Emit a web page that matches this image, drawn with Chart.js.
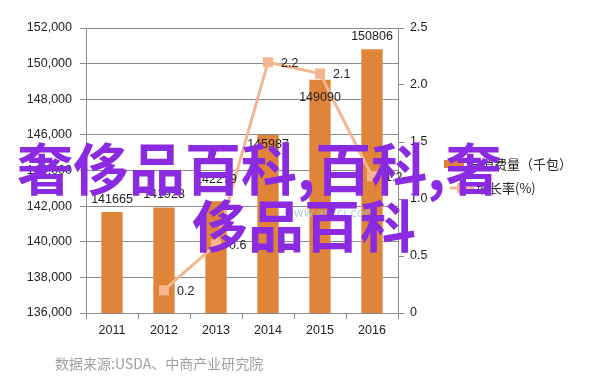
<!DOCTYPE html>
<html>
<head>
<meta charset="utf-8">
<script src="https://cdn.jsdelivr.net/npm/chart.js@4.4.0/dist/chart.umd.min.js"></script>
<style>
  body { margin:0; background:#fff; }
  #wrap { position:relative; width:602px; height:384px; overflow:hidden; }
  #c { position:absolute; left:0; top:0; }
  .wm { position:absolute; font-family:"Noto Sans CJK SC"; font-weight:bold; color:#8a2be2; line-height:1; white-space:nowrap; }
  #src { position:absolute; left:55px; top:353px; font-family:"Noto Sans CJK SC"; font-size:14px; color:#a0a0a0; white-space:nowrap; }
  #site { position:absolute; left:284px; top:206px; font-family:"DejaVu Sans"; font-size:12px; color:#9fc6dc; opacity:0.8; }
</style>
</head>
<body>
<div id="wrap">
  <canvas id="c" width="602" height="384"></canvas>
  <div id="site">www.askci.com</div>
  <div class="wm" id="wm1" style="left:17px;top:138px;font-size:56px;">奢侈品百科,百科,奢</div>
  <div class="wm" id="wm2" style="left:192px;top:195px;font-size:56px;">侈品百科</div>
  <div id="src">数据来源:USDA、中商产业研究院</div>
</div>
<script>
// data
var years = ["2011", "2012", "2013", "2014", "2015", "2016"];
var consumption = [141665, 141923, 142279, 145987, 149090, 150806];
var growth = [null, 0.2, 0.6, 2.2, 2.1, 1.2];
var legendNames = ["总消费量（千包）", "增长率(%)"];

var barColor = "#e0843a";
var lineColor = "#f4b68e";
var tickFont = { family: "Liberation Sans", size: 12.5 };

// label nudges (px) for the bar values, like the original
var barLabelDy = [0, 0, -9, 22, 31, 0];

var labelPlugin = {
  id: "labels",
  afterDatasetsDraw: function(chart)
  {
    var ctx = chart.ctx;
    ctx.save();
    ctx.font = "12.5px 'Liberation Sans'";
    ctx.fillStyle = "#222";
    ctx.textBaseline = "middle";

    var bars = chart.getDatasetMeta(0).data;
    ctx.textAlign = "center";
    for (var i = 0; i < bars.length; i++)
    {
      ctx.fillText(String(consumption[i]), bars[i].x, bars[i].y - 13 + barLabelDy[i]);
    }

    var pts = chart.getDatasetMeta(1).data;
    ctx.textAlign = "left";
    for (var j = 0; j < pts.length; j++)
    {
      if (growth[j] === null) continue;
      ctx.fillText(String(growth[j]), pts[j].x + 13, pts[j].y + 1);
    }

    // legend
    ctx.font = "13px 'Noto Sans CJK SC'";
    ctx.fillStyle = barColor;
    ctx.fillRect(444, 160, 20, 8);
    ctx.fillStyle = "#222";
    ctx.fillText(legendNames[0], 468, 164);

    ctx.strokeStyle = lineColor;
    ctx.lineWidth = 3;
    ctx.beginPath();
    ctx.moveTo(450, 188);
    ctx.lineTo(474, 188);
    ctx.stroke();
    ctx.fillStyle = lineColor;
    ctx.fillRect(457, 183, 10, 10);
    ctx.fillStyle = "#222";
    ctx.fillText(legendNames[1], 476, 188);
    ctx.restore();
  }
};

var chart = new Chart(document.getElementById("c"), {
  type: "bar",
  data: {
    labels: years,
    datasets: [
      {
        label: legendNames[0],
        data: consumption,
        backgroundColor: barColor,
        yAxisID: "y",
        categoryPercentage: 1,
        barPercentage: 0.41,
        order: 2
      },
      {
        type: "line",
        label: legendNames[1],
        data: growth,
        yAxisID: "y1",
        borderColor: lineColor,
        backgroundColor: lineColor,
        borderWidth: 3,
        pointStyle: "rect",
        pointRadius: 5,
        tension: 0,
        order: 1
      }
    ]
  },
  options: {
    responsive: false,
    animation: false,
    devicePixelRatio: 1,
    layout: { padding: { top: 28, left: 0, right: 0, bottom: 0 } },
    plugins: { legend: { display: false }, tooltip: { enabled: false } },
    scales: {
      x: {
        grid: { offset: true, drawOnChartArea: false, drawTicks: true, tickLength: 6, color: "#8c8c8c" },
        border: { color: "#8c8c8c" },
        ticks: { font: tickFont, color: "#222", padding: 4 },
        afterFit: function(s) { s.height = 71; }
      },
      y: {
        position: "left",
        min: 136000,
        max: 152000,
        ticks: { stepSize: 2000, font: tickFont, color: "#222", padding: 8 },
        grid: { color: "#8c8c8c", tickLength: 6 },
        border: { color: "#8c8c8c" },
        afterFit: function(s) { s.width = 86; }
      },
      y1: {
        position: "right",
        min: 0,
        max: 2.5,
        ticks: { stepSize: 0.5, font: tickFont, color: "#222", padding: 6 },
        grid: { drawOnChartArea: false, color: "#8c8c8c", tickLength: 6 },
        border: { color: "#8c8c8c" },
        afterFit: function(s) { s.width = 204; }
      }
    }
  },
  plugins: [labelPlugin]
});
</script>
</body>
</html>
